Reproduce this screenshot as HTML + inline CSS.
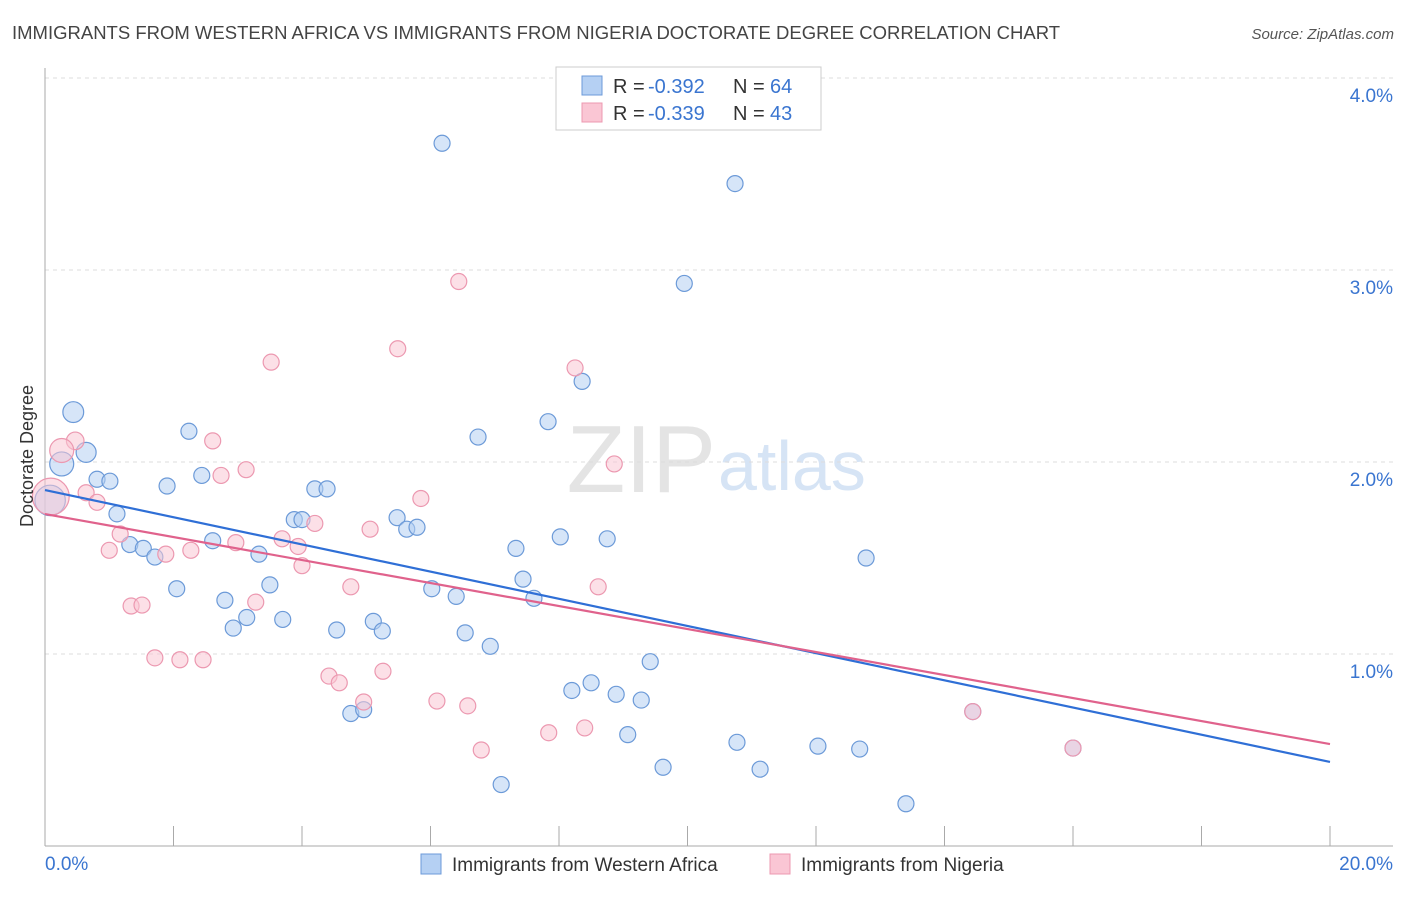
<!DOCTYPE html>
<html><head><meta charset="utf-8">
<style>
body{margin:0;background:#fff;font-family:"Liberation Sans",sans-serif;}
svg text{font-family:"Liberation Sans",sans-serif;}
</style></head>
<body>
<svg id="chart" width="1406" height="892" viewBox="0 0 1406 892" xmlns="http://www.w3.org/2000/svg">
<text x="12" y="39" font-size="18.5" fill="#444">IMMIGRANTS FROM WESTERN AFRICA VS IMMIGRANTS FROM NIGERIA DOCTORATE DEGREE CORRELATION CHART</text>
<text x="1394" y="39" font-size="15" fill="#555" text-anchor="end" font-style="italic">Source: ZipAtlas.com</text>
<text x="716" y="492" font-size="96" fill="#e4e4e4" text-anchor="end" font-family="Liberation Serif">ZIP</text>
<text x="718" y="490" font-size="70" fill="#d6e4f5">atlas</text>
<g id="grid"></g>
<g id="axes"></g>
<g id="pts"></g>
<g id="lines"></g>
<text transform="translate(33,456) rotate(-90)" font-size="18" fill="#333" text-anchor="middle">Doctorate Degree</text>
<g>
<rect x="556" y="67" width="265" height="63" fill="#fff" stroke="#ccc"/>
<rect x="582" y="76" width="20" height="19" fill="#b5d0f3" stroke="#6c9ad8"/>
<rect x="582" y="103" width="20" height="19" fill="#fac6d4" stroke="#ec98b0"/>
<text x="613" y="93" font-size="20" fill="#333">R =</text>
<text x="648" y="93" font-size="20" fill="#3a75d0">-0.392</text>
<text x="733" y="93" font-size="20" fill="#333">N =</text>
<text x="770" y="93" font-size="20" fill="#3a75d0">64</text>
<text x="613" y="120" font-size="20" fill="#333">R =</text>
<text x="648" y="120" font-size="20" fill="#3a75d0">-0.339</text>
<text x="733" y="120" font-size="20" fill="#333">N =</text>
<text x="770" y="120" font-size="20" fill="#3a75d0">43</text>
</g>
<g>
<rect x="421" y="854" width="20" height="20" fill="#b5d0f3" stroke="#6c9ad8"/>
<text x="452" y="871" font-size="19" fill="#333">Immigrants from Western Africa</text>
<rect x="770" y="854" width="20" height="20" fill="#fac6d4" stroke="#ec98b0"/>
<text x="801" y="871" font-size="19" fill="#333">Immigrants from Nigeria</text>
</g>
</svg>
<script>
const yTicks=[1,2,3,4];
const yTickLabels=["1.0%","2.0%","3.0%","4.0%"];
const xTickLabels=["0.0%","20.0%"];
const blueX=[6.18,10.74,9.95,8.36,0.44,7.83,2.24,6.74,0.64,0.26,0.81,1.01,1.90,2.44,4.20,4.39,0.08,1.12,3.88,4.00,5.48,5.63,5.79,2.61,1.32,1.53,1.71,3.33,7.33,8.02,8.75,12.78,2.05,3.50,6.02,6.40,7.44,7.61,2.80,3.14,3.70,2.93,4.54,5.11,5.25,6.54,6.93,9.42,8.20,8.50,8.89,9.28,4.76,4.96,9.07,10.77,12.03,12.68,9.62,11.13,7.10,13.40,14.44,16.00];
const blueY=[3.66,3.45,2.93,2.42,2.26,2.21,2.16,2.13,2.05,1.99,1.91,1.90,1.875,1.93,1.86,1.86,1.80,1.73,1.70,1.70,1.71,1.65,1.66,1.59,1.57,1.55,1.505,1.52,1.55,1.61,1.60,1.50,1.34,1.36,1.34,1.30,1.39,1.29,1.28,1.19,1.18,1.135,1.125,1.17,1.12,1.11,1.04,0.96,0.81,0.85,0.79,0.76,0.69,0.71,0.58,0.54,0.52,0.505,0.41,0.40,0.32,0.22,0.70,0.51];
const blueW=[1,1,1,1,1.3,1,1,1,1.25,1.5,1,1,1,1,1,1,1.9,1,1,1,1,1,1,1,1,1,1,1,1,1,1,1,1,1,1,1,1,1,1,1,1,1,1,1,1,1,1,1,1,1,1,1,1,1,1,1,1,1,1,1,1,1,1,1];
const pinkX=[6.44,5.49,3.52,8.25,0.47,2.61,0.26,8.86,3.13,2.74,5.85,0.64,0.81,0.09,1.17,4.20,5.06,2.97,3.69,3.94,1.00,1.88,2.27,4.00,4.76,8.61,1.34,1.51,3.28,1.71,2.10,2.46,4.42,4.58,5.26,4.96,6.10,6.58,7.84,8.40,6.79,14.44,16.00];
const pinkY=[2.94,2.59,2.52,2.49,2.11,2.11,2.06,1.99,1.96,1.93,1.81,1.84,1.79,1.82,1.625,1.68,1.65,1.58,1.60,1.56,1.54,1.52,1.54,1.46,1.35,1.35,1.25,1.255,1.27,0.98,0.97,0.97,0.885,0.85,0.91,0.75,0.755,0.73,0.59,0.615,0.50,0.70,0.51];
const pinkW=[1,1,1,1,1.1,1,1.5,1,1,1,1,1,1,2.3,1,1,1,1,1,1,1,1,1,1,1,1,1,1,1,1,1,1,1,1,1,1,1,1,1,1,1,1,1];
const blueTrend=[1.854,0.438];
const pinkTrend=[1.729,0.531];
const NS="http://www.w3.org/2000/svg";
const X=v=>45+v*64.25, Y=v=>846-v*192;
function mk(tag,parent,attrs){const e=document.createElementNS(NS,tag);for(const k in attrs)e.setAttribute(k,attrs[k]);parent.appendChild(e);return e;}
const grid=document.getElementById('grid'),axes=document.getElementById('axes'),pts=document.getElementById('pts'),lines=document.getElementById('lines');
yTicks.forEach((t,i)=>{
  const l=mk('line',grid,{x1:45,x2:1393,y1:Y(t),y2:Y(t),stroke:'#ddd','stroke-dasharray':'4,4'});
  
  
  const tx=mk('text',grid,{x:1393,y:Y(t)+24,'font-size':19,fill:'#3a75d0','text-anchor':'end'});
  tx.textContent=yTickLabels[i];
  
  
});
const ya=mk('line',axes,{x1:45,x2:45,y1:68,y2:846,stroke:'#aaa'});


const xa=mk('line',axes,{x1:45,x2:1393,y1:846,y2:846,stroke:'#aaa'});


for(let v=2;v<=20;v+=2){
  const tk=mk('line',axes,{x1:X(v),x2:X(v),y1:826,y2:846,stroke:'#aaa'});
  
  
}
[[0,'start',45],[20,'end',1393]].forEach((a,i)=>{
  const tx=mk('text',axes,{x:a[2],y:870,'font-size':19,fill:'#3a75d0','text-anchor':a[1]});
  tx.textContent=xTickLabels[i];
  
  
});
function series(xs,ys,ws,fill,stroke,name){
  xs.forEach((x,i)=>{
    const c=mk('circle',pts,{cx:X(x),cy:Y(ys[i]),r:8*ws[i],fill:fill,'fill-opacity':0.55,stroke:stroke,'stroke-width':1.2});
    
    
  });
}
series(blueX,blueY,blueW,'#b5d0f3','#6c9ad8','point-western-africa');
series(pinkX,pinkY,pinkW,'#fac6d4','#ec98b0','point-nigeria');
const bl=mk('line',lines,{x1:X(0),y1:Y(blueTrend[0]),x2:X(20),y2:Y(blueTrend[1]),stroke:'#2f6fd6','stroke-width':2.2});


const pl=mk('line',lines,{x1:X(0),y1:Y(pinkTrend[0]),x2:X(20),y2:Y(pinkTrend[1]),stroke:'#e0628c','stroke-width':2.2});


</script>
</body></html>
